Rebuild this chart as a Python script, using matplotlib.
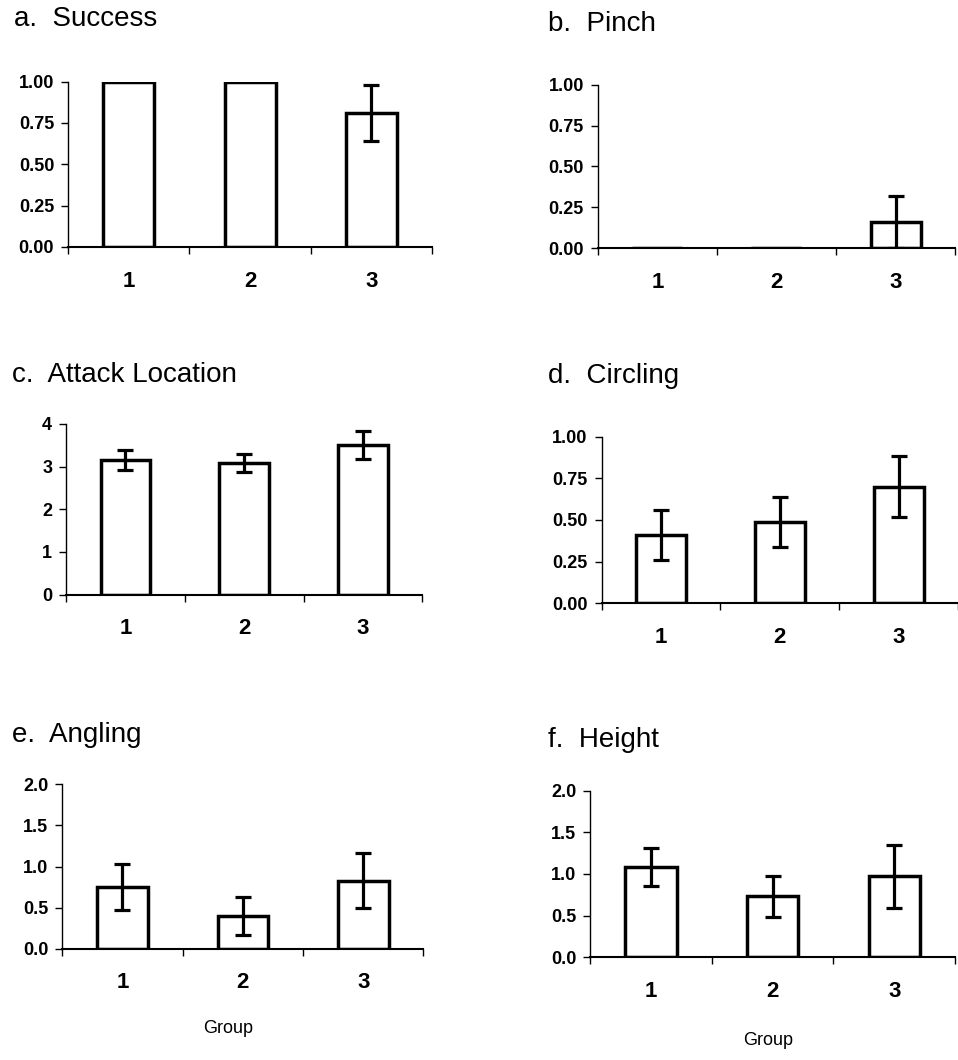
import matplotlib.pyplot as plt
from matplotlib.ticker import FixedLocator

plt.rcParams['font.family'] = ['Liberation Sans', 'DejaVu Sans']

groups = [1, 2, 3]
group_labels = ['1', '2', '3']

success = [1.00, 1.00, 0.81]
success_err = [0, 0, 0.17]
pinch = [0.0, 0.0, 0.16]
pinch_err = [0, 0, 0.16]
attack = [3.15, 3.08, 3.50]
attack_err = [0.23, 0.21, 0.33]
circling = [0.41, 0.49, 0.70]
circling_err = [0.15, 0.15, 0.185]
angling = [0.75, 0.40, 0.83]
angling_err = [0.28, 0.23, 0.34]
height = [1.08, 0.73, 0.97]
height_err = [0.23, 0.25, 0.38]

# (titulo, valores, erros, yticks, formato, posicao do eixo, posicao do titulo)
paineis = [
    ('a.  Success', success, success_err, [0, 0.25, 0.5, 0.75, 1.0], '{:.2f}', [0.071, 0.767, 0.380, 0.156], (0.015, 0.982)),
    ('b.  Pinch', pinch, pinch_err, [0, 0.25, 0.5, 0.75, 1.0], '{:.2f}', [0.624, 0.766, 0.373, 0.154], (0.572, 0.977)),
    ('c.  Attack Location', attack, attack_err, [0, 1, 2, 3, 4], '{:.0f}', [0.069, 0.439, 0.372, 0.161], (0.013, 0.646)),
    ('d.  Circling', circling, circling_err, [0, 0.25, 0.5, 0.75, 1.0], '{:.2f}', [0.628, 0.431, 0.372, 0.157], (0.572, 0.645)),
    ('e.  Angling', angling, angling_err, [0, 0.5, 1.0, 1.5, 2.0], '{:.1f}', [0.065, 0.105, 0.377, 0.155], (0.013, 0.307)),
    ('f.  Height', height, height_err, [0, 0.5, 1.0, 1.5, 2.0], '{:.1f}', [0.616, 0.097, 0.381, 0.157], (0.572, 0.302)),
]

fig = plt.figure(figsize=(9.58, 10.6), dpi=100)

for titulo, vals, errs, yt, fmt, pos, tpos in paineis:
    ax = fig.add_axes(pos)
    ax.bar(groups, vals, width=0.42, facecolor='white', edgecolor='black', linewidth=2.5)
    for g, v, e in zip(groups, vals, errs):
        if e > 0:
            ax.errorbar(g, v, yerr=e, fmt='none', ecolor='black', elinewidth=2.3, capsize=6, capthick=2.3)
    ax.set_xlim(0.5, 3.5)
    ax.set_ylim(0, yt[-1])
    ax.set_yticks(yt)
    ax.set_yticklabels([fmt.format(t) for t in yt], fontsize=13, fontweight='bold')
    ax.set_xticks(groups)
    ax.set_xticklabels(group_labels, fontsize=16, fontweight='bold')
    ax.xaxis.set_minor_locator(FixedLocator([0.5, 1.5, 2.5, 3.5]))
    ax.tick_params(axis='x', which='major', length=0, pad=17)
    ax.tick_params(axis='x', which='minor', length=5, width=1, direction='out')
    ax.tick_params(axis='y', length=5, width=1, direction='out', pad=5)
    for s in ['top', 'right']:
        ax.spines[s].set_visible(False)
    ax.spines['left'].set_linewidth(1)
    ax.spines['bottom'].set_linewidth(1.5)
    fig.text(tpos[0], tpos[1], titulo, fontsize=20, va='center', ha='left')

fig.text(0.238, 0.030, 'Group', fontsize=13, ha='center', va='center')
fig.text(0.802, 0.018, 'Group', fontsize=13, ha='center', va='center')

fig.savefig('out.png', dpi=100)
